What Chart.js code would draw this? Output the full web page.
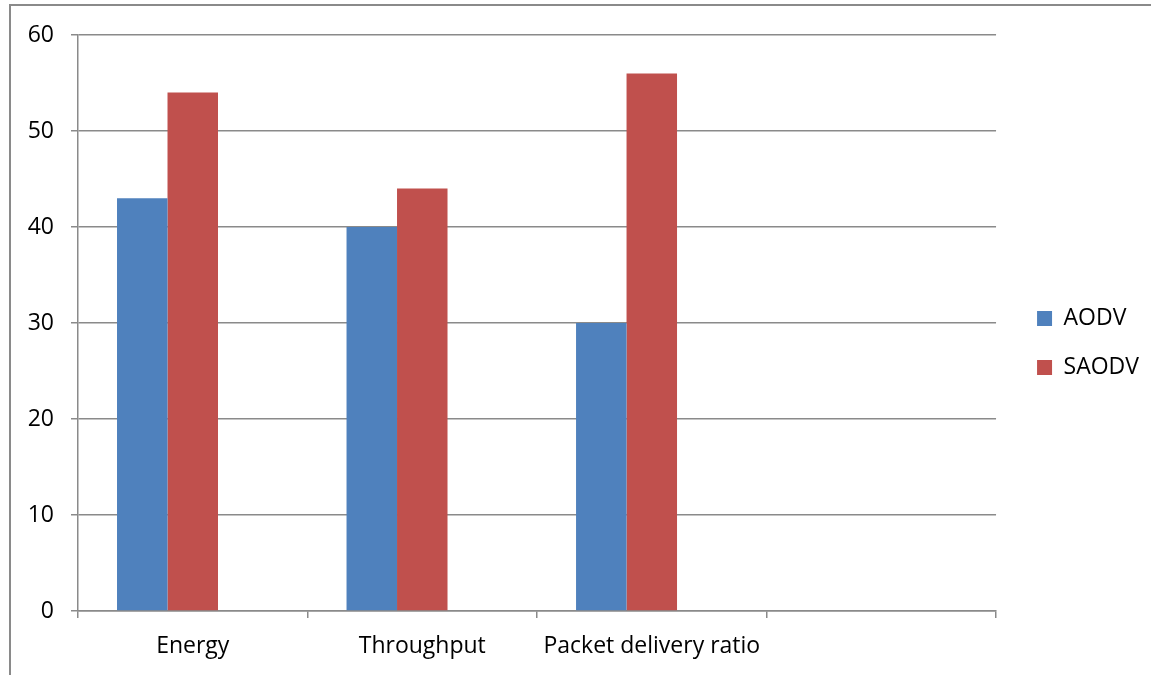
<!DOCTYPE html>
<html>
<head>
<meta charset="utf-8">
<script src="https://cdn.jsdelivr.net/npm/chart.js@4.4.1/dist/chart.umd.min.js"></script>
<style>
  html, body { margin: 0; padding: 0; background: #ffffff; }
  #wrap { position: relative; width: 1151px; height: 675px; }
</style>
</head>
<body>
<div id="wrap"><canvas id="chart" width="1151" height="675"></canvas></div>
<script>
// Metrics compared between the two routing protocols
const categories = ['Energy', 'Throughput', 'Packet delivery ratio', ''];
const aodvValues = [43, 40, 30, null];
const saodvValues = [54, 44, 56, null];
// third slot of each group is left empty
const emptySlot = [null, null, null, null];
const yTicks = [0, 10, 20, 30, 40, 50, 60];

const FONT = "'Open Sans', 'Liberation Sans', sans-serif";
const GRID = '#8a8a8a';
const LEGEND_DX = 15;
const LEGEND_DY = -12;

// Thin frame around the whole chart, open on the right and bottom
const framePlugin = {
  id: 'frame',
  beforeDraw(chart) {
    const ctx = chart.ctx;
    ctx.save();
    ctx.strokeStyle = '#8a8a8a';
    ctx.lineWidth = 2;
    ctx.beginPath();
    ctx.moveTo(10, chart.height);
    ctx.lineTo(10, 5);
    ctx.lineTo(chart.width, 5);
    ctx.stroke();
    ctx.restore();
  }
};

// Nudge the legend block into place beside the plot
const legendNudge = {
  id: 'legendNudge',
  afterLayout(chart) {
    const lg = chart.legend;
    if (!lg) return;
    lg.left += LEGEND_DX; lg.right += LEGEND_DX;
    lg.top += LEGEND_DY; lg.bottom += LEGEND_DY;
  }
};

new Chart(document.getElementById('chart'), {
  type: 'bar',
  data: {
    labels: categories,
    datasets: [
      { label: 'AODV', data: aodvValues, backgroundColor: '#4f81bd', borderWidth: 0 },
      { label: 'SAODV', data: saodvValues, backgroundColor: '#c0504d', borderWidth: 0 },
      { label: '', data: emptySlot, backgroundColor: 'rgba(0,0,0,0)', borderWidth: 0 }
    ]
  },
  options: {
    responsive: false,
    animation: false,
    layout: { padding: { top: 35, left: 0, right: 17, bottom: 0 } },
    datasets: { bar: { categoryPercentage: 0.66, barPercentage: 1.0 } },
    plugins: {
      tooltip: { enabled: false },
      legend: {
        position: 'right',
        labels: {
          font: { family: FONT, size: 23 },
          color: '#000000',
          boxWidth: 15,
          boxHeight: 15,
          padding: 26,
          filter: item => item.text !== ''
        }
      }
    },
    scales: {
      x: {
        offset: true,
        grid: {
          offset: true,
          drawOnChartArea: false,
          drawTicks: true,
          tickLength: 7,
          color: GRID,
          lineWidth: 1.5
        },
        border: { color: GRID, width: 1.5 },
        ticks: {
          font: { family: FONT, size: 23 },
          color: '#000000',
          padding: 15,
          maxRotation: 0,
          autoSkip: false
        },
        afterFit(scale) { scale.height = 64; }
      },
      y: {
        min: 0,
        max: 60,
        afterBuildTicks(scale) { scale.ticks = yTicks.map(v => ({ value: v })); },
        grid: {
          color: GRID,
          lineWidth: 1.5,
          tickLength: 7
        },
        border: { color: GRID, width: 1.5 },
        ticks: {
          font: { family: FONT, size: 23 },
          color: '#000000',
          padding: 17
        },
        afterFit(scale) { scale.width = 78; }
      }
    }
  },
  plugins: [framePlugin, legendNudge]
});
</script>
</body>
</html>
